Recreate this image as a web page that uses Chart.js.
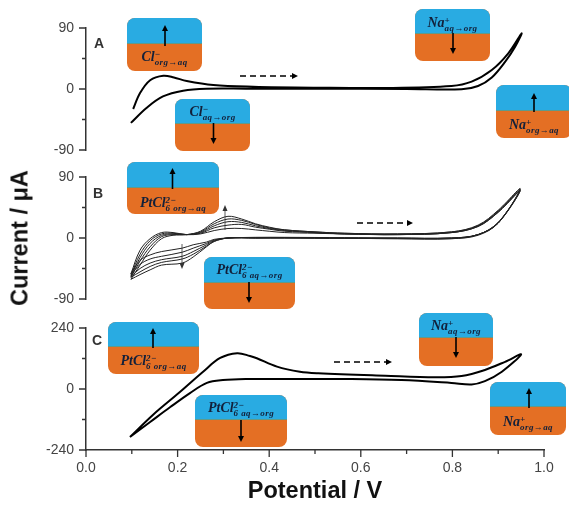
<!DOCTYPE html>
<html>
<head>
<meta charset="utf-8">
<script src="https://cdn.jsdelivr.net/npm/chart.js@4"></script>
<style>
  body { margin: 0; background: #fff; }
  #page { position: relative; width: 569px; height: 506px; overflow: hidden; font-family: "Liberation Sans", Arial, sans-serif; }
  canvas { position: absolute; left: 0; }
  svg { position: absolute; left: 0; top: 0; }
  .letter { position: absolute; font-weight: bold; font-size: 14px; color: #333; }
  .ytitle { position: absolute; left: 20px; top: 238px; transform: translate(-50%, -50%) rotate(-90deg); font-weight: bold; font-size: 23.5px; white-space: nowrap; color: #111; }
  .inset { position: absolute; border-radius: 8px; overflow: hidden; background: #e46f24; }
  .inset .water { position: absolute; left: 0; right: 0; top: 0; background: #29abe2; border-bottom: 1px solid #5f9a8a; box-sizing: border-box; }
  .ion { position: absolute; left: 0; right: 0; text-align: center; font-family: "Liberation Serif", serif; font-style: italic; font-weight: bold; font-size: 14px; color: #12203a; white-space: nowrap; line-height: 14px; }
  .stack { display: inline-block; vertical-align: -4px; text-align: left; line-height: 8px; font-size: 9px; letter-spacing: 0.4px; }
  .stack span { display: block; }
</style>
</head>
<body>
<div id="page">
  <canvas id="panelA" width="569" height="165" style="top:0"></canvas>
  <canvas id="panelB" width="569" height="145" style="top:165px"></canvas>
  <canvas id="panelC" width="569" height="191" style="top:315px"></canvas>
  <div class="letter" style="left:94px;top:35px">A</div>
  <div class="letter" style="left:93px;top:185px">B</div>
  <div class="letter" style="left:92px;top:332px">C</div>
  <div class="ytitle">Current / μA</div>
  <svg id="arrows" width="569" height="506"></svg>
</div>

<script>
// Tick labels
const xTickLabels = ['0.0', '0.2', '0.4', '0.6', '0.8', '1.0'];
const yTickLabelsAB = ['90', '0', '-90'];
const yTickLabelsC = ['240', '0', '-240'];

// Panel A - blank
const potentialA = [0.103, 0.118, 0.14, 0.169, 0.192, 0.22, 0.278, 0.365, 0.5, 0.65, 0.798, 0.842, 0.886, 0.922, 0.951,
  0.937, 0.915, 0.886, 0.856, 0.82, 0.7, 0.5, 0.35, 0.263, 0.212, 0.168, 0.132, 0.098];
const currentA = [-29.5, -6, 13, 19.6, 17, 11.8, 5.9, 3.4, 2, 1.5, 4.4, 10.8, 28, 52.6, 82,
  62.4, 40, 17, 4.4, -0.5, 0, 0.5, 0.5, 0.4, -2.5, -11, -28, -50];

// Panel B - five scans with PtCl6
const potentialB = [0.098, 0.118, 0.14, 0.165, 0.19, 0.22, 0.25, 0.28, 0.31, 0.34, 0.37, 0.40, 0.434, 0.5, 0.565, 0.68, 0.798, 0.856, 0.9, 0.948,
  0.9, 0.856, 0.798, 0.68, 0.565, 0.434, 0.37, 0.31, 0.28, 0.263, 0.234, 0.21, 0.165, 0.14, 0.118, 0.098];
const scan1 = [-61, -40, -18, -1, 4, 5, 10, 24, 32, 28, 21, 16, 12, 9, 7, 6, 9, 19, 41, 73, 22, 4, -1, -1, -0.5, 0, 0, 0, -5, -13, -28, -37, -40, -47, -54, -61];
const scan2 = [-58, -34, -13, 2, 5, 5, 9, 21, 28, 26, 20, 15, 12, 9, 7, 6, 9, 18, 40, 72, 22, 5, -1, -1, -0.5, 0, 0, 0, -5, -12, -24, -31, -36, -42, -50, -58];
const scan3 = [-57, -29, -8, 4, 6, 5, 8, 18, 24, 23, 18, 14, 11, 8, 6, 5, 8, 18, 39, 71, 23, 5, 0, -0.5, 0, 0.5, 0, 0, -4, -10, -20, -27, -32, -37, -45, -57];
const scan4 = [-55, -24, -4, 6, 7, 5, 7, 15, 19, 20, 16, 13, 10, 8, 6, 5, 8, 17, 38, 70, 22, 5, 0, 0, 0, 0.5, 0.5, 0, -3, -8, -15, -21, -27, -31, -39, -55];
const scan5 = [-53, -18, -1, 8, 8, 5, 6, 11, 14, 14, 12, 10, 8, 7, 6, 5, 8, 17, 38, 70, 23, 5, 0, 0, 0.5, 1, 1, 0, -2, -6, -10, -15, -20, -25, -33, -53];

// Panel C
const potentialC = [0.096, 0.146, 0.205, 0.255, 0.293, 0.33, 0.358, 0.373, 0.417, 0.467, 0.507, 0.653, 0.762, 0.82, 0.871, 0.915, 0.95,
  0.908, 0.871, 0.842, 0.798, 0.689, 0.58, 0.434, 0.351, 0.299, 0.264, 0.227, 0.184, 0.14, 0.096];
const currentC = [-189, -102, -12, 67, 122, 141, 130, 121, 88, 68, 62, 52, 46, 51, 75, 107, 136,
  68, 31, 18, 24, 35, 39, 39, 39, 35, 24, -16, -71, -130, -189];

const axisColor = '#333';
const labelColor = '#444';

function toPoints(xs, ys) {
  return xs.map(function(x, i) { return { x: x, y: ys[i] }; });
}

// Short and long tick marks, drawn from the scales
const tickMarks = {
  id: 'tickMarks',
  afterDraw: function(chart) {
    const ctx = chart.ctx;
    ctx.save();
    ctx.strokeStyle = axisColor;
    ctx.lineWidth = 1.3;
    ctx.beginPath();
    chart.scales.y.ticks.forEach(function(t) {
      const py = chart.scales.y.getPixelForValue(t.value);
      ctx.moveTo(chart.chartArea.left, py);
      ctx.lineTo(chart.chartArea.left - (t.label === '' ? 4 : 7), py);
    });
    if (chart.scales.x.options.display) {
      chart.scales.x.ticks.forEach(function(t) {
        const px = chart.scales.x.getPixelForValue(t.value);
        ctx.moveTo(px, chart.chartArea.bottom);
        ctx.lineTo(px, chart.chartArea.bottom + (t.label === '' ? 4 : 7));
      });
    }
    ctx.stroke();
    ctx.restore();
  }
};

function makePanel(id, datasets, yMax, yStep, yLabels, padTop, padBottom, showX) {
  return new Chart(document.getElementById(id).getContext('2d'), {
    type: 'scatter',
    data: { datasets: datasets },
    plugins: [tickMarks],
    options: {
      responsive: false,
      animation: false,
      layout: { padding: { top: padTop, bottom: padBottom, left: 0, right: 25 } },
      plugins: { legend: { display: false }, tooltip: { enabled: false } },
      scales: {
        x: {
          display: showX,
          min: 0,
          max: 1,
          afterFit: function(scale) { if (showX) scale.height = 56; },
          grid: { display: false, drawTicks: false },
          border: { color: axisColor, width: 1.5 },
          title: {
            display: true,
            text: 'Potential / V',
            color: '#111',
            font: { family: '"Liberation Sans"', size: 23.5, weight: 'bold' },
            padding: { top: 10, bottom: 0 }
          },
          ticks: {
            stepSize: 0.1,
            autoSkip: false,
            maxRotation: 0,
            padding: 10,
            color: labelColor,
            font: { family: '"Liberation Sans"', size: 14 },
            callback: function(v) {
              const s = v.toFixed(1);
              return xTickLabels.includes(s) ? s : '';
            }
          }
        },
        y: {
          min: -yMax,
          max: yMax,
          afterFit: function(scale) {
            // tick padding would otherwise push the plot area in
            scale.width = 86;
            scale.paddingTop = 0;
            scale.paddingBottom = 0;
          },
          grid: { display: false, drawTicks: false },
          border: { color: axisColor, width: 1.5 },
          ticks: {
            stepSize: yStep,
            autoSkip: false,
            padding: 12,
            color: labelColor,
            font: { family: '"Liberation Sans"', size: 14 },
            callback: function(v) {
              return yLabels.includes(String(v)) ? String(v) : '';
            }
          }
        }
      }
    }
  });
}

function curve(xs, ys, width, color) {
  return {
    data: toPoints(xs, ys),
    showLine: true,
    borderColor: color,
    borderWidth: width,
    pointRadius: 0,
    tension: 0.35,
    fill: false
  };
}

makePanel('panelA', [curve(potentialA, currentA, 2, '#000')], 90, 45, yTickLabelsAB, 28, 15, false);
makePanel('panelB', [scan1, scan2, scan3, scan4, scan5].map(function(s) {
  return curve(potentialB, s, 1, '#222');
}), 90, 45, yTickLabelsAB, 12, 11, false);
makePanel('panelC', [curve(potentialC, currentC, 2, '#000')], 240, 120, yTickLabelsC, 13, 0, true);

// Interface sketches: box left, top, right, bottom, water line, text centre, base, sup, sub
const insets = [
  [127, 18, 202, 71, 44, 57, 'Cl', '−', 'org→aq'],
  [175, 99, 250, 151, 124, 112, 'Cl', '−', 'aq→org'],
  [415, 9, 490, 61, 34, 23, 'Na', '+', 'aq→org'],
  [496, 85, 572, 138, 111, 125, 'Na', '+', 'org→aq'],
  [127, 162, 219, 214, 188, 203, 'PtCl', '2−', '6 org→aq'],
  [204, 257, 295, 309, 283, 270, 'PtCl', '2−', '6 aq→org'],
  [108, 322, 199, 374, 347, 361, 'PtCl', '2−', '6 org→aq'],
  [195, 395, 287, 447, 420, 408, 'PtCl', '2−', '6 aq→org'],
  [419, 313, 493, 366, 338, 326, 'Na', '+', 'aq→org'],
  [490, 382, 566, 435, 407, 422, 'Na', '+', 'org→aq']
];

const page = document.getElementById('page');
insets.forEach(function(b) {
  const box = document.createElement('div');
  box.className = 'inset';
  box.style.cssText = 'left:' + b[0] + 'px;top:' + b[1] + 'px;width:' + (b[2] - b[0]) + 'px;height:' + (b[3] - b[1]) + 'px';
  const water = document.createElement('div');
  water.className = 'water';
  water.style.height = (b[4] - b[1]) + 'px';
  box.appendChild(water);
  const ion = document.createElement('div');
  ion.className = 'ion';
  ion.style.top = (b[5] - b[1] - 7) + 'px';
  ion.innerHTML = b[6] + '<span class="stack"><span>' + b[7] + '</span><span>' + b[8] + '</span></span>';
  box.appendChild(ion);
  page.insertBefore(box, document.getElementById('arrows'));
});

// Arrows: x1, y1, x2, y2, dashed, thin
const arrows = [
  [165, 46, 165, 25], [213.5, 123, 213.5, 144], [453, 33, 453, 54], [534, 112, 534, 93],
  [172.5, 189, 172.5, 168], [249, 282, 249, 303], [153, 348, 153, 328], [241, 420, 241, 442],
  [456, 337, 456, 358], [529, 408, 529, 388],
  [240, 76, 298, 76, 1], [357, 223, 413, 223, 1], [334, 362, 392, 362, 1],
  [225, 230, 225, 205, 0, 1], [182, 244, 182, 269, 0, 1]
];

const svg = document.getElementById('arrows');
let svgText = '';
arrows.forEach(function(a) {
  const dx = Math.sign(a[2] - a[0]);
  const dy = Math.sign(a[3] - a[1]);
  const w = a[5] ? 0.8 : 1.6;
  const color = a[5] ? '#333' : '#000';
  const len = 6;
  const half = a[5] ? 2.5 : 3;
  svgText += '<line x1="' + a[0] + '" y1="' + a[1] + '" x2="' + (a[2] - dx * len) + '" y2="' + (a[3] - dy * len) + '" stroke="' + color + '" stroke-width="' + w + '"' +
    (a[4] ? ' stroke-dasharray="6 4"' : '') + '/>';
  const bx = a[2] - dx * len;
  const by = a[3] - dy * len;
  svgText += '<polygon fill="' + color + '" points="' + a[2] + ',' + a[3] + ' ' + (bx - dy * half) + ',' + (by - dx * half) + ' ' + (bx + dy * half) + ',' + (by + dx * half) + '"/>';
});
svg.innerHTML = svgText;
</script>
</body>
</html>
